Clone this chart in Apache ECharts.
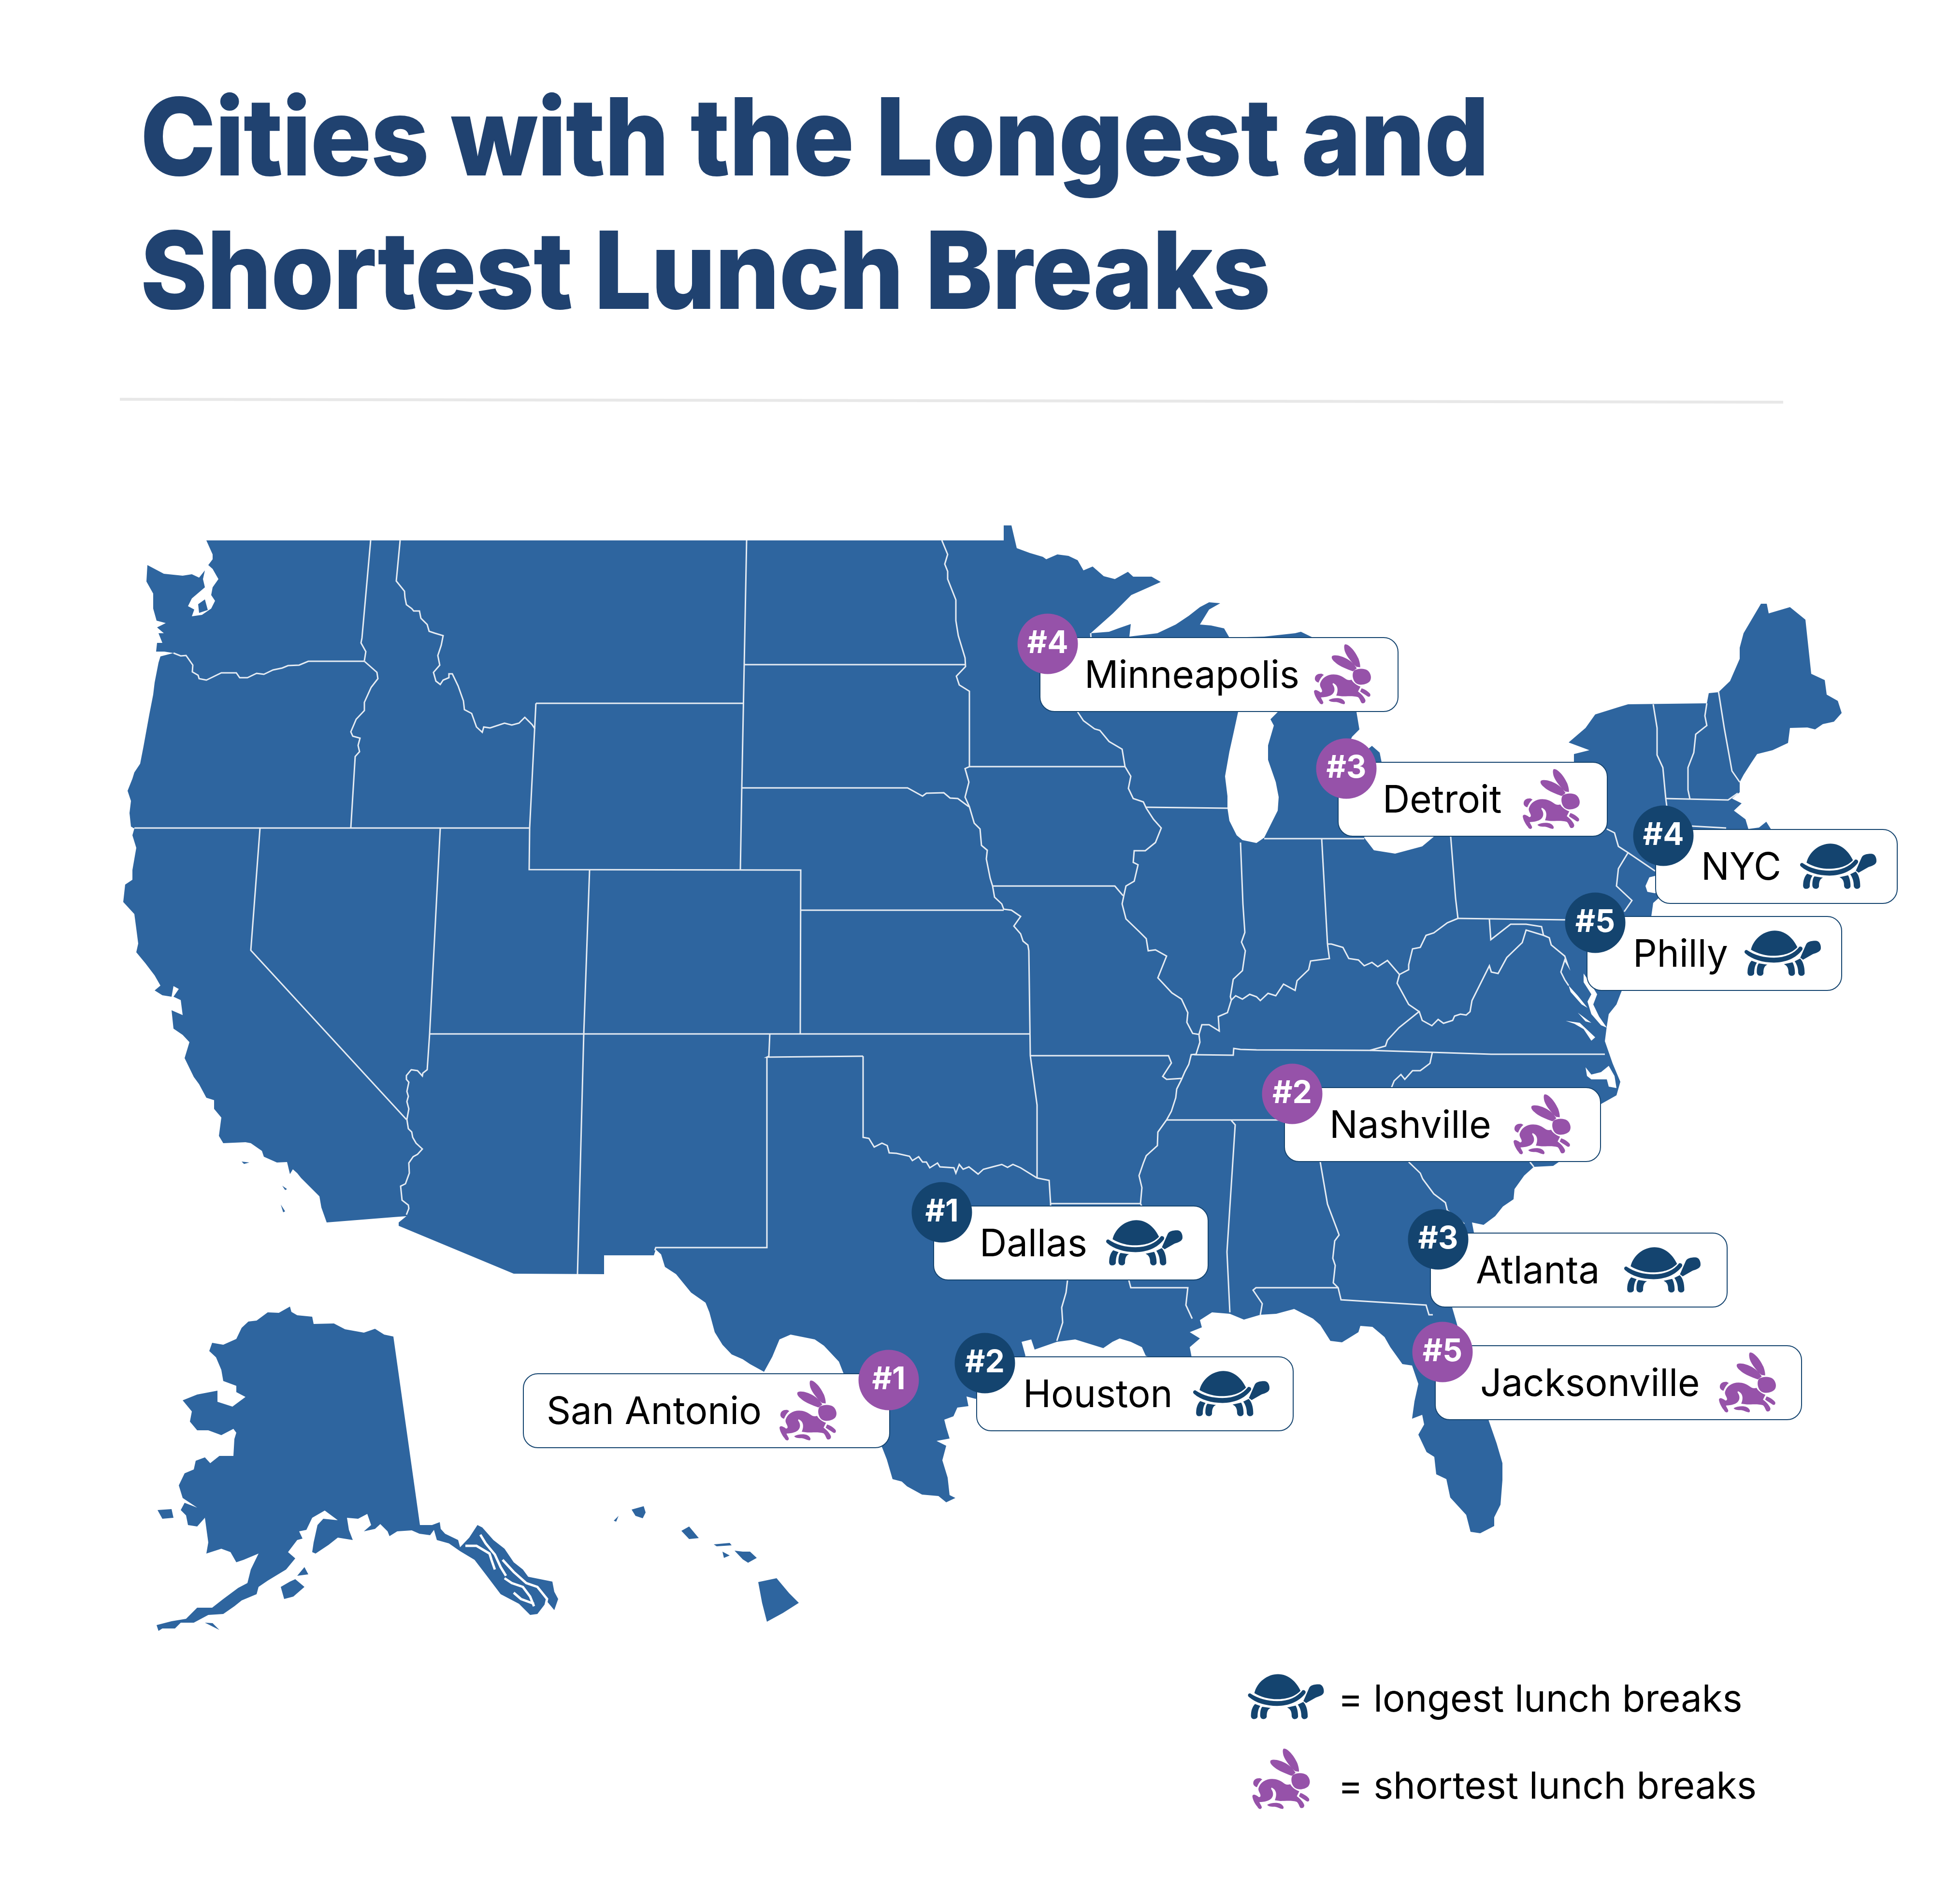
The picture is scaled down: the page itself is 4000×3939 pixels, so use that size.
<!DOCTYPE html>
<html>
<head>
<meta charset="utf-8">
<title>Cities with the Longest and Shortest Lunch Breaks</title>
<script src="https://cdn.jsdelivr.net/npm/echarts@6/dist/echarts.min.js"></script>
<style>
html, body { margin: 0; padding: 0; background: #fff; }
#main { width: 100vw; height: 100vh; }
</style>
</head>
<body>
<div id="main"></div>
<script>
// ---------------------------data-------------------------------
var titleLines = ['Cities with the Longest and', 'Shortest Lunch Breaks'];
var legendLabels = ['= longest lunch breaks', '= shortest lunch breaks'];

var longestCities = ['Dallas', 'Houston', 'Atlanta', 'NYC', 'Philly'];
var longestRanks = [1, 2, 3, 4, 5];
var longestPoints = [[1949, 2508], [2038, 2820], [2976, 2564], [3442, 1729], [3301, 1909]];

var shortestCities = ['San Antonio', 'Nashville', 'Detroit', 'Minneapolis', 'Jacksonville'];
var shortestRanks = [1, 2, 3, 4, 5];
var shortestPoints = [[1839, 2855], [2674, 2263], [2786, 1590], [2168, 1332], [2985, 2797]];

// map outlines, in map units
var lower48 = [[427,1118],[2077,1118],[2077,1087],[2093,1087],[2104,1134],[2131,1144],[2158,1152],[2165,1157],[2188,1147],[2211,1150],[2230,1159],[2242,1180],[2261,1172],[2284,1192],[2307,1198],[2334,1183],[2345,1193],[2383,1193],[2402,1204],[2341,1231],[2303,1269],[2257,1310],[2295,1307],[2314,1300],[2340,1291],[2337,1317],[2395,1310],[2433,1292],[2460,1274],[2483,1256],[2502,1246],[2525,1248],[2502,1261],[2483,1292],[2506,1294],[2533,1300],[2544,1319],[2616,1317],[2680,1310],[2692,1307],[2760,1340],[2780,1400],[2700,1420],[2600,1440],[2562,1473],[2552,1519],[2544,1555],[2535,1606],[2540,1647],[2540,1672],[2544,1698],[2559,1728],[2571,1738],[2600,1744],[2616,1733],[2644,1677],[2646,1649],[2640,1618],[2624,1572],[2624,1542],[2636,1501],[2629,1488],[2644,1473],[2720,1430],[2790,1440],[2807,1473],[2813,1509],[2798,1524],[2780,1560],[2800,1575],[2839,1543],[2855,1557],[2859,1577],[2840,1650],[2823,1733],[2843,1759],[2887,1766],[2943,1751],[2967,1731],[3257,1577],[3257,1560],[3289,1552],[3246,1536],[3281,1506],[3301,1478],[3349,1463],[3369,1457],[3532,1455],[3536,1434],[3556,1432],[3580,1409],[3600,1363],[3600,1340],[3608,1310],[3644,1249],[3656,1249],[3660,1269],[3704,1256],[3736,1282],[3748,1394],[3776,1407],[3780,1437],[3803,1450],[3811,1475],[3795,1493],[3772,1498],[3756,1509],[3740,1505],[3704,1506],[3700,1537],[3668,1552],[3636,1560],[3624,1578],[3608,1603],[3600,1618],[3600,1639],[3584,1652],[3604,1662],[3588,1677],[3612,1695],[3618,1715],[3640,1712],[3655,1700],[3665,1716],[3620,1760],[3500,1800],[3430,1860],[3421,1868],[3417,1896],[3353,2057],[3345,2078],[3329,2098],[3325,2123],[3321,2154],[3337,2200],[3353,2238],[3345,2266],[3313,2284],[3313,2320],[3260,2380],[3214,2412],[3174,2414],[3154,2432],[3134,2460],[3132,2481],[3110,2496],[3094,2516],[3070,2534],[3046,2529],[3050,2550],[3020,2620],[3005,2705],[3014,2736],[3040,2830],[3080,2937],[3097,2986],[3109,3027],[3109,3062],[3105,3113],[3092,3139],[3092,3157],[3063,3172],[3043,3169],[3034,3134],[3001,3098],[2993,3060],[2972,3050],[2968,3014],[2952,3004],[2935,2968],[2947,2947],[2943,2927],[2922,2935],[2927,2899],[2935,2863],[2922,2825],[2902,2822],[2877,2787],[2865,2766],[2840,2745],[2815,2743],[2811,2756],[2777,2777],[2753,2774],[2732,2741],[2717,2728],[2678,2708],[2641,2718],[2608,2720],[2574,2730],[2545,2718],[2508,2715],[2483,2731],[2487,2746],[2462,2756],[2483,2769],[2462,2787],[2470,2830],[2371,2805],[2363,2787],[2340,2776],[2317,2769],[2302,2776],[2283,2789],[2225,2771],[2187,2776],[2141,2792],[2134,2771],[2114,2776],[2122,2805],[2060,2860],[2019,2894],[2000,2889],[2004,2909],[1981,2912],[1973,2930],[1954,2937],[1958,2953],[1965,2976],[1938,2981],[1958,2991],[1950,3021],[1961,3057],[1965,3093],[1977,3099],[1958,3108],[1942,3095],[1908,3092],[1877,3075],[1866,3065],[1847,3060],[1835,3019],[1826,2996],[1780,2900],[1745,2840],[1736,2817],[1705,2784],[1686,2771],[1636,2761],[1613,2771],[1598,2807],[1581,2838],[1552,2822],[1537,2812],[1514,2802],[1495,2782],[1479,2756],[1468,2715],[1460,2695],[1430,2674],[1399,2636],[1376,2621],[1368,2595],[1357,2585],[1353,2597],[1250,2597],[1250,2636],[1063,2635],[825,2536],[825,2529],[841,2516],[814,2518],[676,2529],[665,2498],[661,2475],[623,2437],[615,2427],[606,2419],[600,2429],[594,2404],[573,2405],[546,2393],[542,2381],[519,2365],[508,2363],[462,2365],[453,2350],[458,2312],[443,2294],[443,2276],[427,2271],[412,2243],[401,2228],[382,2189],[389,2166],[392,2156],[378,2141],[359,2128],[355,2090],[378,2100],[374,2069],[359,2062],[370,2046],[359,2040],[355,2062],[336,2059],[320,2049],[332,2039],[320,2018],[301,1993],[282,1970],[286,1952],[282,1921],[278,1891],[255,1866],[259,1830],[274,1820],[274,1800],[282,1754],[274,1728],[278,1714],[271,1710],[268,1682],[271,1657],[264,1636],[274,1611],[278,1598],[290,1580],[297,1544],[309,1478],[317,1437],[320,1412],[328,1371],[332,1358],[359,1351],[340,1348],[323,1348],[325,1330],[336,1330],[328,1310],[339,1310],[325,1298],[343,1289],[324,1284],[317,1259],[317,1228],[303,1203],[305,1169],[339,1187],[378,1191],[397,1188],[412,1195],[424,1180],[420,1198],[424,1215],[397,1238],[389,1254],[402,1261],[397,1275],[418,1272],[437,1259],[445,1243],[437,1231],[440,1215],[452,1198],[440,1177],[431,1169],[440,1157],[440,1147]];

var alaska = [[814,2765],[869,3155],[894,3155],[910,3149],[912,3163],[921,3173],[948,3186],[952,3201],[971,3181],[988,3155],[998,3160],[1021,3186],[1044,3204],[1063,3232],[1082,3247],[1093,3262],[1143,3272],[1147,3293],[1155,3308],[1147,3331],[1132,3313],[1112,3339],[1097,3341],[1074,3318],[1036,3298],[1005,3257],[982,3227],[952,3209],[929,3193],[904,3186],[898,3165],[890,3176],[868,3173],[852,3166],[822,3168],[806,3178],[802,3168],[787,3153],[776,3163],[753,3168],[768,3155],[760,3132],[741,3142],[718,3140],[722,3165],[730,3186],[699,3181],[680,3196],[653,3214],[646,3211],[649,3191],[657,3155],[669,3142],[699,3145],[672,3125],[646,3140],[634,3165],[619,3168],[626,3183],[615,3186],[596,3211],[611,3224],[592,3247],[554,3270],[535,3283],[531,3298],[500,3311],[485,3323],[462,3339],[431,3341],[401,3357],[374,3357],[362,3369],[336,3369],[328,3374],[324,3362],[355,3354],[385,3349],[408,3326],[439,3326],[462,3308],[493,3285],[512,3275],[519,3247],[535,3214],[504,3227],[489,3232],[477,3211],[458,3204],[427,3214],[431,3191],[424,3140],[431,3132],[408,3158],[389,3155],[385,3135],[374,3124],[382,3109],[408,3119],[378,3099],[370,3073],[382,3048],[401,3040],[405,3022],[424,3015],[435,3027],[454,3012],[483,3012],[485,2977],[489,2964],[483,2956],[458,2969],[431,2959],[408,2959],[393,2941],[397,2920],[378,2897],[408,2885],[450,2877],[450,2900],[481,2910],[508,2890],[489,2880],[489,2867],[462,2857],[458,2834],[447,2808],[433,2795],[439,2778],[462,2782],[489,2770],[500,2747],[514,2734],[531,2732],[554,2715],[577,2716],[600,2703],[603,2714],[615,2721],[646,2724],[649,2739],[691,2738],[714,2750],[753,2757],[776,2749],[795,2761]];

var islands = [
	[[410,1250],[424,1240],[430,1262],[412,1268]],
	[[326,3124],[355,3122],[359,3140],[336,3142]],
	[[615,3260],[630,3242],[638,3257]],
	[[611,3267],[630,3283],[607,3303],[588,3308],[581,3283],[600,3272]],
	[[424,3357],[454,3372],[440,3358]],
	[[1307,3123],[1332,3116],[1336,3129],[1330,3141],[1315,3136]],
	[[1270,3146],[1280,3136],[1275,3148]],
	[[1410,3167],[1426,3158],[1446,3182],[1426,3184]],
	[[1477,3195],[1510,3192],[1514,3197],[1483,3199]],
	[[1495,3210],[1510,3218],[1498,3223]],
	[[1520,3208],[1537,3210],[1552,3210],[1566,3223],[1548,3233],[1537,3226]],
	[[1569,3273],[1607,3265],[1633,3296],[1653,3316],[1620,3337],[1587,3355],[1577,3316]],
	[[500,2403],[516,2405],[505,2408]],
	[[584,2453],[590,2462],[594,2460]],
	[[581,2492],[590,2506],[586,2508]]
];

var water = [
	[[3277,2014],[3293,2037],[3305,2057],[3297,2078],[3309,2103],[3325,2126],[3313,2121],[3293,2098],[3285,2072],[3293,2057],[3277,2032]],
	[[3246,2039],[3265,2060],[3285,2085],[3273,2078],[3250,2052]],
	[[3240,2112],[3269,2116],[3301,2146],[3293,2153],[3277,2129],[3258,2118]],
	[[3265,2095],[3293,2116],[3281,2113]],
	[[3281,2208],[3293,2223],[3313,2218],[3329,2205],[3341,2226],[3345,2251],[3329,2248],[3325,2233],[3293,2233],[3284,2226]],
	[[3425,1812],[3413,1815],[3405,1833],[3409,1845],[3425,1848],[3440,1830]]
];

var channels = [
	[[994,3175],[1005,3193],[1024,3216],[1036,3242],[1047,3260]],
	[[963,3198],[986,3198],[1013,3214],[1017,3227],[1024,3247]],
	[[1044,3265],[1059,3275],[1082,3283],[1097,3303],[1105,3323]],
	[[1040,3227],[1063,3252],[1089,3275],[1112,3283],[1132,3308],[1128,3326]],
	[[1063,3295],[1078,3308],[1105,3318]]
];

var stateBorders = [
	[[767,1118],[749,1320],[747,1330],[757,1348],[754,1367]],
	[[754,1368],[638,1368],[619,1376],[596,1377],[584,1382],[565,1386],[546,1395],[531,1393],[512,1402],[496,1402],[489,1392],[458,1392],[427,1407],[412,1404],[410,1397],[398,1390],[399,1376],[385,1356],[374,1357],[359,1351]],
	[[754,1368],[780,1391],[782,1404],[768,1422],[754,1453],[754,1470],[737,1488],[726,1514],[730,1523],[745,1527],[741,1542],[744,1555],[735,1565],[726,1712]],
	[[278,1713],[1096,1713]],
	[[1109,1455],[1538,1455]],
	[[1109,1455],[1096,1713],[1095,1799],[1657,1800],[1656,2138]],
	[[1220,1800],[1208,2139],[1195,2636]],
	[[911,1714],[889,2139],[884,2213],[875,2220],[874,2226],[864,2215],[851,2213],[841,2225],[841,2233],[846,2239],[842,2258],[845,2268],[842,2279],[846,2294],[842,2316],[845,2335],[852,2342],[854,2353],[861,2365],[874,2377],[864,2388],[855,2393],[846,2406],[847,2427],[839,2449],[829,2454],[832,2483],[845,2493],[846,2500],[841,2513]],
	[[889,2139],[2131,2139]],
	[[538,1714],[519,1966],[841,2316]],
	[[828,1118],[820,1202],[837,1223],[838,1236],[841,1251],[852,1259],[856,1264],[868,1264],[871,1279],[884,1292],[888,1306],[900,1310],[917,1315],[913,1335],[906,1356],[910,1376],[897,1391],[902,1409],[911,1416],[917,1407],[929,1402],[929,1394],[936,1394],[948,1419],[959,1450],[961,1468],[976,1476],[986,1504],[998,1515],[1001,1504],[1014,1506],[1044,1496],[1059,1500],[1074,1496],[1086,1484],[1101,1499],[1107,1508]],
	[[1545,1118],[1540,1375],[1535,1630],[1532,1800]],
	[[1540,1375],[1998,1375]],
	[[1535,1630],[1878,1630],[1909,1647],[1917,1641],[1953,1640],[1966,1651],[1982,1652],[2005,1669]],
	[[1657,1883],[2077,1883]],
	[[1949,1118],[1961,1147],[1955,1167],[1961,1182],[1961,1198],[1978,1241],[1978,1284],[1983,1315],[1997,1361],[1998,1379],[1979,1399],[1985,1417],[2006,1430],[2006,1586],[1997,1590],[2005,1618],[1997,1649],[2006,1669],[2016,1703],[2028,1715],[2031,1749],[2043,1759],[2041,1777],[2049,1817],[2054,1833],[2058,1856],[2073,1870],[2077,1881],[2093,1883],[2112,1896],[2098,1916],[2112,1932],[2117,1947],[2127,1955],[2129,1967],[2132,2184],[2146,2286],[2146,2437]],
	[[2006,1586],[2328,1586]],
	[[2257,1310],[2258,1325]],
	[[2230,1473],[2242,1491],[2265,1508],[2276,1511],[2295,1534],[2322,1550],[2328,1586],[2340,1606],[2335,1631],[2345,1652],[2366,1659],[2372,1672],[2387,1695],[2403,1713],[2391,1743],[2370,1760],[2347,1760],[2345,1784],[2355,1789],[2347,1823],[2330,1833],[2326,1851],[2322,1870],[2330,1901],[2357,1927],[2372,1942],[2376,1967],[2391,1965],[2414,1978],[2396,2023],[2425,2054],[2445,2067],[2458,2095],[2456,2115],[2468,2138],[2481,2140],[2483,2156],[2475,2181],[2465,2182],[2460,2202],[2452,2217],[2445,2233],[2435,2253],[2433,2271],[2424,2299],[2414,2317],[2396,2342],[2395,2370],[2372,2391],[2366,2406],[2357,2432],[2363,2457],[2360,2490],[2364,2498],[2336,2649],[2340,2664],[2458,2664],[2454,2700],[2467,2728]],
	[[2372,1670],[2540,1672]],
	[[2054,1833],[2307,1833],[2324,1853]],
	[[2132,2184],[2418,2184],[2424,2199],[2406,2227],[2414,2233],[2445,2231]],
	[[1786,2185],[1786,2353],[1798,2355],[1809,2373],[1825,2365],[1836,2370],[1840,2385],[1855,2386],[1882,2392],[1888,2401],[1901,2393],[1909,2404],[1917,2404],[1924,2416],[1940,2406],[1945,2414],[1974,2416],[1978,2427],[1985,2409],[1993,2419],[2005,2414],[2024,2429],[2035,2419],[2054,2414],[2073,2409],[2085,2415],[2096,2409],[2112,2416],[2146,2437],[2171,2442],[2174,2490],[2174,2530],[2209,2649],[2206,2674],[2197,2705],[2199,2736],[2187,2774]],
	[[2174,2490],[2360,2490]],
	[[1593,2139],[1591,2185],[1587,2187],[1786,2185]],
	[[1587,2187],[1587,2581],[1357,2581],[1355,2587]],
	[[2548,2318],[2556,2327],[2539,2590],[2545,2715]],
	[[2414,2317],[2860,2317]],
	[[2964,2177],[2959,2200],[2939,2215],[2923,2215],[2907,2233],[2899,2223],[2885,2236],[2879,2251]],
	[[2732,2404],[2747,2491],[2767,2544],[2771,2555],[2762,2567],[2758,2603],[2763,2618],[2759,2654],[2769,2664],[2775,2689],[2951,2700],[2957,2720],[2965,2720]],
	[[2769,2664],[2599,2664],[2593,2669],[2612,2697],[2608,2720]],
	[[2915,2404],[2939,2427],[2944,2439],[2967,2470],[2991,2488],[2995,2504],[3030,2532]],
	[[3166,2404],[3174,2414]],
	[[2471,2182],[2552,2183],[2553,2169],[2567,2171],[2600,2172],[2835,2173],[2963,2177],[3086,2181],[3321,2181]],
	[[2835,2173],[2867,2164],[2871,2152],[2895,2126],[2935,2094],[2937,2093],[2943,2111],[2963,2122],[2976,2109],[2987,2117],[3006,2111],[3010,2102],[3022,2098],[3034,2100],[3042,2093],[3046,2070],[3082,1998],[3086,2011],[3100,2014],[3118,1981],[3150,1950],[3158,1924],[3194,1935],[3206,1940],[3210,1955],[3238,1978],[3244,1996],[3238,1986],[3230,2011],[3238,2027],[3246,2039]],
	[[3017,1900],[3242,1903]],
	[[3082,1902],[3085,1944],[3126,1912],[3158,1912],[3190,1917],[3194,1935]],
	[[2896,2016],[2891,2034],[2915,2078],[2937,2093]],
	[[2896,2016],[2915,2006],[2915,1996],[2923,1963],[2939,1960],[2951,1935],[2967,1930],[2995,1909],[3017,1900]],
	[[3002,1731],[3012,1858],[3017,1900]],
	[[2735,1735],[2747,1953]],
	[[2747,1953],[2755,1953],[2779,1960],[2791,1983],[2811,1986],[2823,1998],[2839,1991],[2851,2000],[2871,1987],[2896,2016]],
	[[2747,1953],[2751,1983],[2712,1988],[2708,2006],[2684,2029],[2680,2049],[2656,2036],[2640,2060],[2624,2055],[2608,2070],[2600,2062],[2586,2057],[2571,2067],[2557,2060],[2548,2069]],
	[[2567,1743],[2572,1870],[2576,1929],[2569,1949],[2577,1967],[2571,2008],[2552,2026],[2546,2062],[2548,2069],[2540,2095],[2521,2103],[2523,2133],[2502,2120],[2487,2120],[2481,2140]],
	[[2616,1735],[2823,1735]],
	[[3325,1715],[3341,1723],[3349,1751],[3369,1764],[3349,1797],[3345,1833],[3377,1863],[3361,1886]],
	[[3369,1764],[3425,1802]],
	[[3421,1457],[3429,1506],[3429,1562],[3441,1588],[3447,1652],[3449,1667]],
	[[3532,1455],[3528,1481],[3532,1501],[3509,1519],[3505,1557],[3493,1588],[3493,1634],[3497,1653]],
	[[3447,1652],[3576,1655],[3596,1641]],
	[[3556,1430],[3568,1506],[3584,1595],[3600,1618]],
	[[3501,1709],[3572,1713]]
];

// ---------------------------icons-------------------------------
var turtleIcon = 'M108,190C125,120 190,72 255,72C320,72 370,120 395,175C360,215 300,228 250,228C200,228 150,215 108,190Z'
	+ 'M82,192C130,225 190,240 250,240C320,240 375,215 408,172C420,168 432,178 425,192C385,245 320,270 250,270C180,270 115,250 75,215C62,205 70,190 82,192Z'
	+ 'M413,240L448,160C455,142 475,135 510,135C530,135 543,160 540,185C535,205 510,210 490,218L430,252Z'
	+ 'M112,258L145,270C130,290 128,320 128,335C128,345 118,352 105,352C92,352 85,342 87,325C88,295 98,272 112,258Z'
	+ 'M157,275L210,283C190,290 185,310 185,335C185,345 175,352 165,352C150,352 143,340 144,325C145,300 148,285 157,275Z'
	+ 'M312,280L365,268C375,285 380,310 380,335C380,345 370,352 360,352C348,352 340,342 340,330C340,310 335,290 312,280Z'
	+ 'M378,262L412,245C430,262 440,295 440,335C440,345 430,352 420,352C408,352 400,342 400,330C400,305 392,280 378,262Z';
var rabbitIcon = 'M290,533C310,530 350,570 372,620C380,640 385,665 383,675L360,672C335,650 300,610 288,575C283,555 282,537 290,533Z'
	+ 'M210,605C230,595 270,605 305,625C330,640 350,660 362,682L338,700C300,685 260,670 235,650C215,635 200,618 210,605Z'
	+ 'M345,695C370,680 410,680 430,695C450,712 458,745 440,765C420,782 385,790 360,775C340,762 328,720 345,695Z'
	+ 'M103,740C105,722 125,712 145,715L158,722C140,735 132,755 125,770C110,765 100,755 103,740Z'
	+ 'M165,735C200,710 255,715 290,745C305,757 320,755 330,752C340,772 365,788 385,795L370,825C390,840 410,860 416,880C416,895 405,900 395,898C385,893 383,870 370,860C340,850 300,855 270,855L235,850C250,815 245,785 215,772L212,780C235,810 225,845 185,855C165,862 150,860 140,862C145,875 155,885 155,895C150,910 135,905 128,890C115,875 100,850 97,825C100,810 115,815 130,825C135,830 140,835 147,825C150,810 130,795 135,775C140,760 150,745 165,735Z'
	+ 'M392,805C410,810 435,825 445,840C450,855 440,862 428,855C415,845 395,835 383,825Z'
	+ 'M188,878C210,865 250,862 270,872C285,880 295,895 285,903C270,905 255,893 235,890C215,890 195,890 188,878Z';

// card layout: left offset from badge, width, text offset, icon centre offset
var cardLayout = {
	'Minneapolis': [-16, 741, 92, 626],
	'Detroit': [-17, 557, 92, 441],
	'NYC': [-16, 500, 94, 378],
	'Philly': [-17, 527, 95, 405],
	'Nashville': [-16, 654, 93, 533],
	'Atlanta': [-16, 614, 94, 480],
	'Jacksonville': [-15, 758, 93, 646],
	'Dallas': [-17, 568, 95, 436],
	'Houston': [-17, 655, 96, 527],
	'San Antonio': [-756, 758, 48, 589]
};

var COLOR_LAND = '#2E659F', COLOR_BORDER = '#E6ECF3', COLOR_TURTLE = '#14446F', COLOR_RABBIT = '#9652A9', COLOR_TITLE = '#204270';
var FONT = 'Inter';

// ---------------------------map-------------------------------
function poly(list) {
	return list.map(function(ring) { return [ring.concat([ring[0]])]; });
}
echarts.registerMap('usa', {
	type : 'FeatureCollection',
	features : [
		{ type : 'Feature', properties : { name : 'Land' }, geometry : { type : 'MultiPolygon', coordinates : poly([lower48, alaska].concat(islands)) } },
		{ type : 'Feature', properties : { name : 'Water' }, geometry : { type : 'MultiPolygon', coordinates : poly(water) } }
	]
});

function cardRenderer(cities, ranks, color, icon, iconW, iconH) {
	return function(params, api) {
		var city = cities[params.dataIndex];
		var p = api.coord([api.value(0), api.value(1)]);
		var l = cardLayout[city];
		var left = p[0] + l[0], top = p[1] - 13;
		return {
			type : 'group',
			children : [
				{ type : 'rect', shape : { x : left, y : top, width : l[1], height : 153, r : 30 },
					style : { fill : '#fff', stroke : COLOR_TURTLE, lineWidth : 2 } },
				{ type : 'text', style : { x : left + l[2], y : top + 81, text : city, fill : '#000',
					font : '400 78px ' + FONT, verticalAlign : 'middle', align : 'left' } },
				{ type : 'path', shape : { pathData : icon, layout : 'center',
					x : left + l[3] - iconW / 2, y : top + 76 - iconH / 2, width : iconW, height : iconH },
					style : { fill : color } },
				{ type : 'circle', shape : { cx : p[0], cy : p[1], r : 62.5 }, style : { fill : color } },
				{ type : 'text', style : { x : p[0], y : p[1], text : '#' + ranks[params.dataIndex], fill : '#fff',
					font : '700 64px ' + FONT, align : 'center', verticalAlign : 'middle' } }
			]
		};
	};
}

var chart = echarts.init(document.getElementById('main'));
chart.setOption({
	animation : false,
	backgroundColor : '#fff',
	graphic : [
		{ type : 'text', x : 291, y : 186, scaleX : 0.946, style : { text : titleLines[0], fill : COLOR_TITLE, stroke : COLOR_TITLE, lineWidth : 2,
			font : '800 220px ' + FONT } },
		{ type : 'text', x : 291, y : 462, scaleX : 0.948, style : { text : titleLines[1], fill : COLOR_TITLE, stroke : COLOR_TITLE, lineWidth : 2,
			font : '800 220px ' + FONT } },
		{ type : 'line', shape : { x1 : 248, y1 : 826, x2 : 3690, y2 : 832 }, style : { stroke : '#E8E8E8', lineWidth : 6 } }
	],
	legend : {
		orient : 'vertical',
		left : 2573,
		top : 3451,
		itemWidth : 160,
		itemHeight : 124,
		itemGap : 79,
		selectedMode : false,
		textStyle : { fontFamily : FONT, fontSize : 77.6, color : '#000', padding : [0, 0, 0, 26] },
		data : legendLabels.map(function(n) { return { name : n, icon : 'none' }; })
	},
	geo : {
		map : 'usa',
		silent : true,
		roam : false,
		left : 0, top : 0, right : 0, bottom : 0,
		projection : {
			project : function(p) { return p; },
			unproject : function(p) { return p; }
		},
		boundingCoords : [[0, 0], [4000, 3939]],
		label : { show : false },
		itemStyle : { areaColor : COLOR_LAND, borderColor : COLOR_LAND, borderWidth : 0 },
		regions : [{ name : 'Water', itemStyle : { areaColor : '#fff', borderColor : '#fff', borderWidth : 0 } }]
	},
	series : [
		{
			name : 'Channels',
			type : 'lines',
			coordinateSystem : 'geo',
			polyline : true,
			silent : true,
			lineStyle : { color : '#fff', width : 5, opacity : 1, curveness : 0 },
			data : channels.map(function(b) { return { coords : b }; })
		},
		{
			name : 'State borders',
			type : 'lines',
			coordinateSystem : 'geo',
			polyline : true,
			silent : true,
			lineStyle : { color : COLOR_BORDER, width : 3, opacity : 1, curveness : 0 },
			data : stateBorders.map(function(b) { return { coords : b }; })
		},
		{
			name : legendLabels[0],
			type : 'custom',
			coordinateSystem : 'geo',
			silent : true,
			itemStyle : { color : COLOR_TURTLE },
			renderItem : cardRenderer(longestCities, longestRanks, COLOR_TURTLE, turtleIcon, 158, 94),
			data : longestPoints
		},
		{
			name : legendLabels[1],
			type : 'custom',
			coordinateSystem : 'geo',
			silent : true,
			itemStyle : { color : COLOR_RABBIT },
			renderItem : cardRenderer(shortestCities, shortestRanks, COLOR_RABBIT, rabbitIcon, 118, 124),
			data : shortestPoints
		},
		{
			name : 'Legend turtle',
			type : 'scatter',
			coordinateSystem : 'geo',
			silent : true,
			symbol : 'path://' + turtleIcon,
			symbolSize : [157, 93],
			itemStyle : { color : COLOR_TURTLE, opacity : 1 },
			data : [[2661, 3510]]
		},
		{
			name : 'Legend rabbit',
			type : 'scatter',
			coordinateSystem : 'geo',
			silent : true,
			symbol : 'path://' + rabbitIcon,
			symbolSize : [119, 125],
			itemStyle : { color : COLOR_RABBIT, opacity : 1 },
			data : [[2651, 3680]]
		}
	]
});
</script>
</body>
</html>
